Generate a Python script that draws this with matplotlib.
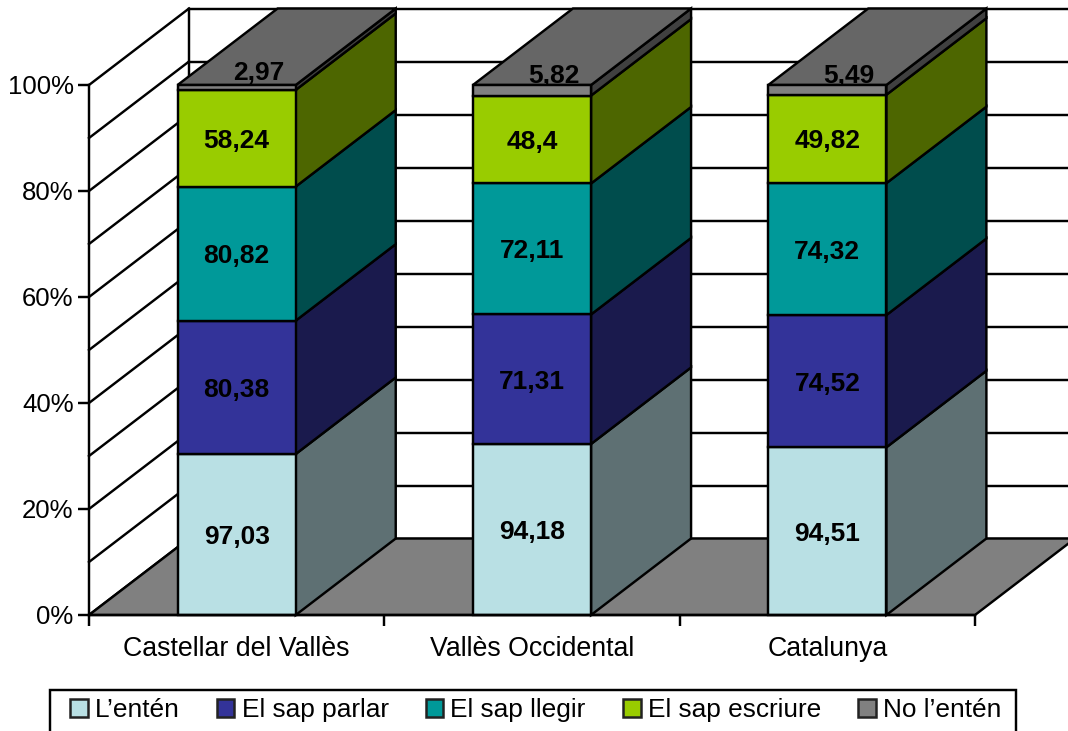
import matplotlib
matplotlib.use('Agg')
from matplotlib import pyplot as plt
from matplotlib.patches import Polygon, Patch, Rectangle

plt.rcParams['font.family'] = ['Liberation Sans', 'DejaVu Sans']

categories = ['Castellar del Vallès', 'Vallès Occidental', 'Catalunya']
series_names = ['L’entén', 'El sap parlar', 'El sap llegir', 'El sap escriure', 'No l’entén']
lenten = [97.03, 94.18, 94.51]
parlar = [80.38, 71.31, 74.52]
llegir = [80.82, 72.11, 74.32]
escriure = [58.24, 48.4, 49.82]
no_lenten = [2.97, 5.82, 5.49]
series = [lenten, parlar, llegir, escriure, no_lenten]

front_colors = ['#B9E0E4', '#333399', '#009999', '#99CC00', '#808080']
side_colors = ['#5E7073', '#1A1A4D', '#004D4D', '#4D6600', '#404040']
top_color = '#666666'
floor_color = '#808080'

W, H = 1068, 731
LW = 1.75
BAR_W = 0.4
# size of the 3d depth in data units (x categories, y percent)
DEPTH_X = 100 / (886 / 3)
DEPTH_Y = 76.5 / 5.3


def proj(x, y, d=0.0):
    return (x + d * DEPTH_X, y + d * DEPTH_Y)


fig = plt.figure(figsize=(W / 100, H / 100), dpi=100)
fig.patch.set_facecolor('white')
ax = fig.add_axes([89 / W, 1 - 615 / H, 886 / W, 530 / H])
ax.set_xlim(0, 3)
ax.set_ylim(0, 100)
ax.patch.set_visible(False)


def poly(points, color, z):
    ax.add_patch(Polygon(points, closed=True, facecolor=color, edgecolor='black',
                         linewidth=LW, clip_on=False, zorder=z, joinstyle='miter'))


# walls
for pct in range(0, 101, 10):
    ax.plot(*zip(proj(0, pct), proj(0, pct, 1)), color='black', lw=LW, clip_on=False, zorder=1)
    ax.plot(*zip(proj(0, pct, 1), proj(3, pct, 1)), color='black', lw=LW, clip_on=False, zorder=1)
ax.plot(*zip(proj(0, 0, 1), proj(0, 100, 1)), color='black', lw=LW, clip_on=False, zorder=1)

# floor
poly([proj(0, 0), proj(3, 0), proj(3, 0, 1), proj(0, 0, 1)], floor_color, 2)

# stacked bars, values are shown as a share of each column's total
z = 3
for i, cat in enumerate(categories):
    total = sum(s[i] for s in series)
    left = i + 0.5 - BAR_W / 2
    right = i + 0.5 + BAR_W / 2
    base = 0
    for j, s in enumerate(series):
        top = base + s[i] / total * 100
        mid = (base + top) / 2
        label = ('%g' % s[i]).replace('.', ',')
        poly([proj(right, base), proj(right, top), proj(right, top, 1), proj(right, base, 1)], side_colors[j], z)
        if j == len(series) - 1:
            poly([proj(left, top), proj(right, top), proj(right, top, 1), proj(left, top, 1)], top_color, z)
            # the last label sits up on the top face and the front edge cuts it
            tx, ty = proj(i + 0.5, mid, 0.22)
            ax.text(tx, ty, label, ha='center', va='center_baseline', fontsize=19, fontweight='bold', zorder=z + 0.5)
        else:
            ax.text(i + 0.5, mid, label, ha='center', va='center_baseline', fontsize=19, fontweight='bold', zorder=z + 2)
        poly([proj(left, base), proj(right, base), proj(right, top), proj(left, top)], front_colors[j], z + 1)
        base = top

# axes
for side in ['top', 'right']:
    ax.spines[side].set_visible(False)
for side in ['left', 'bottom']:
    ax.spines[side].set_linewidth(LW)
    ax.spines[side].set_zorder(10)
ax.set_yticks(range(0, 101, 20))
ax.set_yticklabels(['%d%%' % t for t in range(0, 101, 20)])
ax.set_xticks([0, 1, 2, 3])
ax.set_xticklabels([])
ax.set_xticks([0.5, 1.5, 2.5], minor=True)
ax.set_xticklabels(categories, minor=True)
ax.tick_params(axis='y', length=8, width=LW, labelsize=18.5, pad=3, zorder=10)
ax.tick_params(axis='x', which='major', length=8, width=LW)
ax.tick_params(axis='x', which='minor', length=0, labelsize=19.3, pad=15)

# legend box runs off the bottom of the image
fig.add_artist(Rectangle((50 / W, -0.02), 966 / W, 0.02 + 1 - 690 / H, transform=fig.transFigure,
                         facecolor='white', edgecolor='black', linewidth=LW))
handles = [Patch(facecolor=c, edgecolor='#222222', linewidth=1.8) for c in front_colors]
leg = fig.legend(handles, series_names, ncol=5, loc='center left',
                 bbox_to_anchor=(70 / W, 1 - 710 / H), bbox_transform=fig.transFigure,
                 fontsize=18.9, frameon=False,
                 handlelength=0.67, handleheight=0.67, handletextpad=0.27,
                 columnspacing=1.42, borderpad=0, borderaxespad=0)

plt.savefig('out.png', dpi=100)
